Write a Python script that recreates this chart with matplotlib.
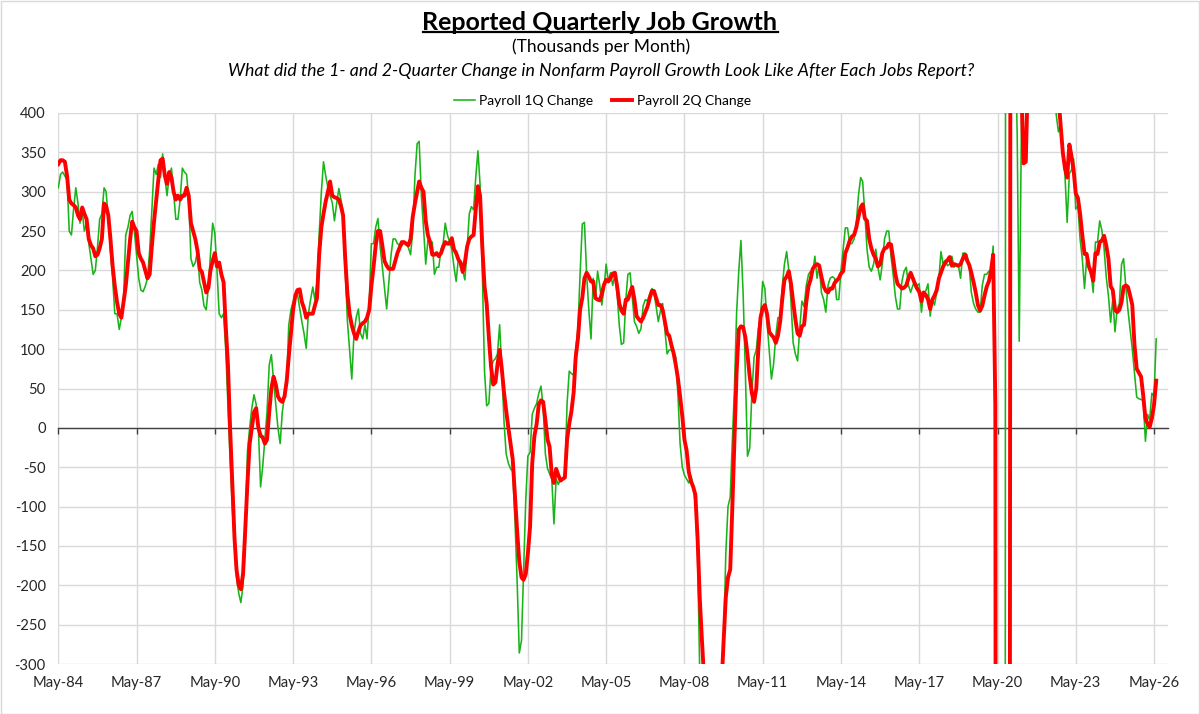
import matplotlib
matplotlib.use('Agg')
import matplotlib.pyplot as plt
from matplotlib.lines import Line2D
from matplotlib.patches import Rectangle
import pandas as pd

plt.rcParams['font.family'] = ['Lato', 'DejaVu Sans']
plt.rcParams['axes.unicode_minus'] = False

# ---------------- data (thousands per month, one value per jobs report) ----------------
start_month = '1984-05-01'

payroll_1q = [
    305, 322, 325, 320, 315, 250, 245, 278, 305, 285, 260, 275,
    250, 260, 235, 215, 195, 200, 230, 265, 272, 305, 300, 265,
    225, 190, 145, 145, 125, 140, 165, 245, 255, 270, 275, 250,
    220, 190, 175, 173, 180, 190, 225, 275, 330, 322, 335, 318,
    348, 318, 295, 320, 330, 300, 265, 265, 290, 330, 325, 322,
    290, 215, 205, 210, 225, 185, 175, 155, 150, 180, 220, 260,
    248, 200, 145, 140, 145, 100, 30, -40, -100, -150, -190, -210,
    -222, -200, -150, -30, 0, 25, 42, 30, 0, -75, -50, -15,
    20, 80, 93, 60, 30, 0, -20, 20, 40, 60, 130, 150,
    160, 165, 170, 152, 135, 120, 101, 145, 163, 179, 163, 185,
    245, 300, 338, 320, 305, 295, 286, 263, 285, 304, 290, 275,
    200, 135, 99, 62, 120, 140, 151, 120, 113, 131, 113, 160,
    234, 234, 255, 266, 230, 205, 177, 151, 185, 220, 240, 240,
    234, 232, 231, 236, 233, 229, 220, 250, 320, 361, 364, 295,
    254, 208, 238, 237, 236, 195, 204, 204, 227, 235, 260, 245,
    236, 227, 205, 186, 215, 210, 200, 188, 227, 272, 281, 277,
    318, 352, 309, 200, 72, 28, 31, 76, 85, 88, 94, 131,
    75, 8, -33, -45, -52, -55, -116, -193, -286, -270, -188, -93,
    -36, -31, 17, 25, 31, 44, 53, 26, -33, -52, -58, -65,
    -122, -65, -72, -65, -65, -60, 31, 72, 69, 67, 100, 126,
    195, 259, 261, 195, 149, 113, 190, 163, 199, 181, 156, 177,
    208, 186, 197, 181, 195, 172, 130, 106, 108, 163, 195, 197,
    167, 135, 129, 120, 126, 155, 163, 161, 170, 177, 172, 154,
    135, 149, 158, 125, 94, 99, 99, 95, 90, 40, -20, -50,
    -60, -65, -70, -61, -74, -97, -161, -310, -420, -550, -600, -680,
    -650, -600, -500, -430, -380, -340, -275, -160, -100, -88, -20, 50,
    145, 200, 238, 170, 70, -36, -26, 44, 90, 99, 126, 140,
    186, 177, 135, 99, 62, 81, 117, 140, 140, 181, 208, 224,
    200, 160, 108, 94, 85, 126, 161, 154, 181, 195, 199, 197,
    218, 190, 208, 172, 163, 147, 181, 190, 192, 190, 163, 163,
    199, 227, 254, 254, 234, 234, 240, 259, 295, 318, 313, 272,
    227, 204, 199, 208, 227, 204, 188, 208, 240, 250, 250, 218,
    195, 167, 151, 151, 186, 199, 204, 181, 172, 181, 186, 181,
    183, 147, 172, 174, 183, 142, 163, 156, 172, 190, 224, 208,
    213, 206, 208, 218, 204, 208, 206, 190, 222, 222, 220, 204,
    172, 158, 151, 147, 147, 181, 195, 195, 199, 199, 231, -70,
    -7000, -6400, -6000, -4400, 3100, 1500, 900, 650, 520, 370, 110, 390,
    650, 700, 650, 600, 620, 580, 600, 650, 560, 520, 600, 560,
    540, 520, 470, 398, 376, 386, 350, 322, 261, 323, 327, 342,
    278, 282, 240, 215, 177, 215, 205, 198, 172, 236, 236, 263,
    251, 228, 192, 168, 134, 164, 122, 151, 158, 208, 215, 180,
    150, 124, 100, 70, 39, 37, 36, 35, -17, 17, 10, 44,
    40, 113,
]

payroll_2q = [
    335, 340, 340, 338, 320, 290, 285, 283, 280, 270, 265, 280,
    272, 265, 240, 232, 228, 218, 220, 228, 240, 285, 282, 270,
    240, 205, 180, 160, 145, 140, 160, 180, 210, 240, 262, 255,
    250, 222, 215, 210, 200, 190, 195, 230, 262, 290, 315, 340,
    342, 320, 310, 325, 318, 300, 290, 295, 290, 295, 295, 305,
    295, 260, 250, 240, 225, 202, 198, 185, 172, 178, 200, 212,
    222, 205, 210, 195, 185, 130, 80, 0, -70, -140, -180, -200,
    -205, -185, -130, -70, -20, 0, 20, 25, 0, -10, -12, -20,
    -15, 20, 50, 65, 55, 40, 35, 33, 40, 60, 90, 120,
    150, 168, 175, 176, 160, 152, 140, 145, 145, 145, 155, 165,
    220, 255, 272, 288, 300, 313, 295, 293, 292, 290, 282, 270,
    215, 170, 145, 130, 120, 113, 122, 130, 133, 135, 140, 150,
    180, 205, 232, 250, 250, 232, 212, 206, 202, 202, 202, 212,
    222, 229, 236, 236, 234, 232, 240, 268, 285, 300, 313, 305,
    300, 263, 245, 236, 220, 220, 222, 218, 222, 230, 236, 234,
    234, 241, 227, 222, 214, 210, 198, 210, 230, 240, 243, 245,
    277, 307, 295, 230, 180, 158, 115, 78, 55, 58, 80, 99,
    75, 45, 22, 0, -20, -40, -85, -130, -170, -190, -193, -186,
    -160, -125, -45, -10, 5, 30, 35, 33, 10, -15, -24, -60,
    -70, -52, -60, -67, -65, -63, -15, 5, 21, 45, 90, 113,
    150, 165, 190, 197, 192, 186, 186, 165, 163, 162, 170, 182,
    188, 186, 190, 196, 197, 180, 158, 149, 145, 163, 163, 172,
    179, 163, 142, 138, 135, 140, 147, 154, 165, 174, 174, 165,
    156, 156, 150, 135, 120, 117, 105, 95, 80, 62, 40, 15,
    -15, -29, -56, -68, -75, -85, -140, -215, -270, -320, -420, -500,
    -550, -560, -520, -460, -400, -330, -270, -215, -190, -180, -105, -15,
    70, 125, 129, 128, 115, 93, 65, 44, 33, 50, 99, 140,
    152, 156, 145, 122, 118, 115, 108, 117, 135, 165, 188, 192,
    199, 183, 160, 138, 120, 117, 129, 131, 160, 180, 188, 202,
    206, 208, 206, 192, 180, 174, 172, 177, 177, 184, 187, 190,
    196, 199, 222, 229, 238, 243, 245, 254, 268, 280, 284, 266,
    263, 240, 228, 220, 215, 205, 208, 222, 228, 229, 234, 233,
    215, 195, 183, 180, 177, 178, 181, 190, 197, 190, 183, 177,
    173, 161, 172, 169, 163, 151, 163, 168, 175, 190, 197, 205,
    210, 213, 217, 206, 208, 207, 206, 208, 215, 220, 213, 207,
    197, 185, 172, 156, 149, 155, 168, 179, 186, 200, 220, 30,
    -3400, -3150, -2350, -2100, -1900, -3000, 1000, 1600, 1000, 800, 700, 430,
    336, 338, 450, 520, 580, 600, 620, 560, 600, 650, 600, 560,
    540, 520, 480, 450, 420, 385, 350, 330, 318, 360, 346, 328,
    298, 292, 272, 245, 221, 221, 205, 198, 187, 222, 221, 236,
    238, 244, 232, 215, 180, 175, 150, 147, 150, 160, 179, 181,
    179, 168, 156, 105, 75, 70, 65, 41, 12, 5, 1, 12,
    29, 60,
]

tick_labels = ['May-84', 'May-87', 'May-90', 'May-93', 'May-96', 'May-99', 'May-02',
               'May-05', 'May-08', 'May-11', 'May-14', 'May-17', 'May-20', 'May-23', 'May-26']
y_ticks = [-300, -250, -200, -150, -100, -50, 0, 50, 100, 150, 200, 250, 300, 350, 400]

title = 'Reported Quarterly Job Growth'
subtitle = '(Thousands per Month)'
question = 'What did the 1- and 2-Quarter Change in Nonfarm Payroll Growth Look Like After Each Jobs Report?'
series_names = ['Payroll 1Q Change', 'Payroll 2Q Change']

# ---------------- figure ----------------
W, H = 1200, 714
fig = plt.figure(figsize=(W / 100, H / 100), dpi=100, facecolor='white')

dates = pd.date_range(start_month, periods=len(payroll_1q), freq='MS')
tick_dates = pd.date_range(start_month, periods=len(tick_labels), freq='36MS')
x_right = tick_dates[-1] + pd.Timedelta(days=196)

left, right, top, bottom = 58.3, 1168, 113, 664
rect = [left / W, 1 - bottom / H, (right - left) / W, (bottom - top) / H]

# label axes (bottom tick labels only)
lab = fig.add_axes(rect, zorder=0)
lab.patch.set_visible(False)
for s in lab.spines.values():
    s.set_visible(False)
lab.set_xlim(dates[0], x_right)
lab.set_xticks(tick_dates)
lab.set_xticklabels(tick_labels, fontsize=10.6, color='#262626')
lab.tick_params(axis='x', length=0, pad=9)
lab.set_yticks([])

ax = fig.add_axes(rect, zorder=1)
ax.patch.set_visible(False)
ax.set_xlim(dates[0], x_right)
ax.set_ylim(-300, 400)
ax.set_yticks(y_ticks)
ax.set_yticklabels([str(v) for v in y_ticks], fontsize=10.6, color='#262626')
ax.tick_params(axis='y', length=0, pad=9)
ax.set_xticks(tick_dates)
ax.tick_params(axis='x', length=4, width=1, direction='out', color='#404040', labelbottom=False)
ax.grid(True, color='#d9d9d9', lw=1.0)
ax.set_axisbelow(True)
for s in ['left', 'right', 'top']:
    ax.spines[s].set_visible(False)
ax.spines['bottom'].set_position(('data', 0))
ax.spines['bottom'].set_color('#404040')
ax.spines['bottom'].set_linewidth(1.0)

ax.plot(dates, payroll_1q, color='#19b419', lw=1.15, label=series_names[0], zorder=3)
ax.plot(dates, payroll_2q, color='#ff0000', lw=2.8, label=series_names[1], zorder=4,
        solid_joinstyle='round')

fig.legend(loc='center', bbox_to_anchor=(602.5 / W, 1 - 101 / H), ncol=2, frameon=False,
           fontsize=10.0, handlelength=1.5, handletextpad=0.3, columnspacing=1.3)

t = fig.text(0.5, 1 - 23 / H, title, ha='center', va='center', fontsize=18,
             fontweight='bold', color='black')
fig.text(601 / W, 1 - 47 / H, subtitle, ha='center', va='center', fontsize=12.5, color='black')
fig.text(601.5 / W, 1 - 71 / H, question, ha='center', va='center', fontsize=12.75,
         style='italic', color='black')

# chart border
fig.patches.append(Rectangle((0.5 / W, 0.5 / H), (W - 1.5) / W, (H - 1.5) / H,
                             transform=fig.transFigure, fill=False,
                             edgecolor='#d9d9d9', lw=1.0))

# underline the title
fig.canvas.draw()
bb = t.get_window_extent()
uy = (bb.y0 + 2.5) / H
fig.add_artist(Line2D([bb.x0 / W, bb.x1 / W], [uy, uy], transform=fig.transFigure,
                      color='black', lw=1.6))

fig.savefig('out.png', dpi=100, facecolor='white')
